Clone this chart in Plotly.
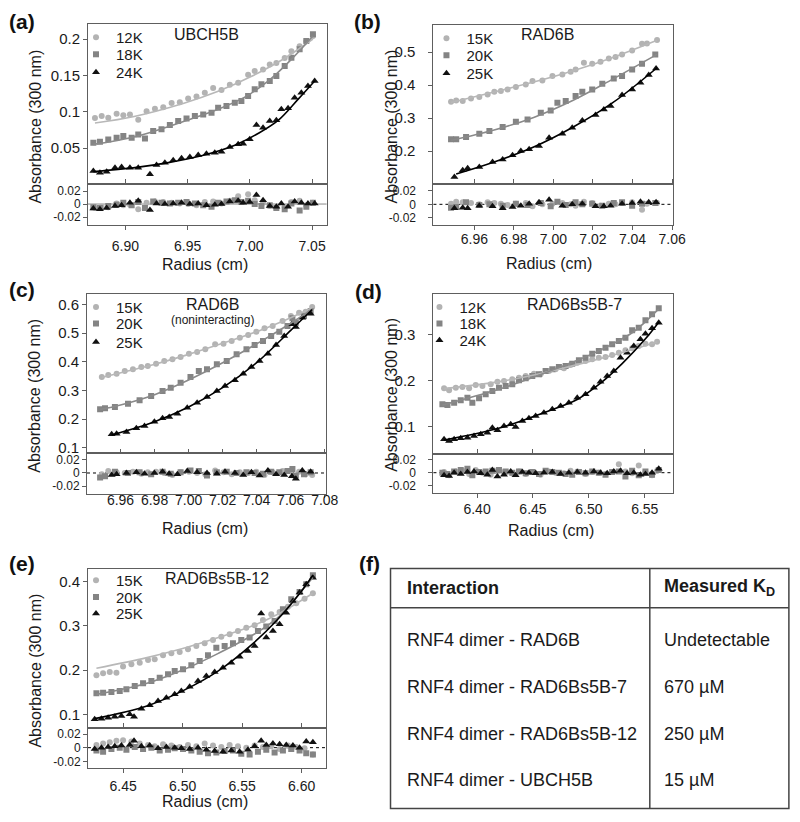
import plotly.graph_objects as go

# Target picture is 800x822. The page is photographed as an 812x826 area that is then
# brought back to 800x822, so positions are laid out in that page frame (8px body margin).
W, H = 800, 822
PAD = 8
PAGE_W, PAGE_H = 812, 826
SX, SY = W / PAGE_W, H / PAGE_H
FIG_W, FIG_H = PAGE_W - 2 * PAD, PAGE_H - 2 * PAD

# ---------------- data: panel (a) UBCH5B ----------------
a_names = ["12K", "18K", "24K"]
a_x_12 = [6.8755, 6.8809, 6.8862, 6.8929, 6.8983, 6.9036, 6.9103, 6.9170, 6.9237, 6.9304, 6.9371, 6.9437, 6.9504, 6.9571, 6.9638, 6.9705, 6.9772, 6.9839, 6.9906, 6.9986, 7.0039, 7.0106, 7.0160, 7.0213, 7.0280, 7.0334, 7.0400, 7.0454, 7.0507]
a_y_12 = [0.0915, 0.0940, 0.0917, 0.0972, 0.0950, 0.0960, 0.0890, 0.1005, 0.1040, 0.1060, 0.1120, 0.1130, 0.1180, 0.1210, 0.1260, 0.1326, 0.1300, 0.1370, 0.1400, 0.1510, 0.1560, 0.1580, 0.1650, 0.1670, 0.1740, 0.1830, 0.1900, 0.1970, 0.2040]
a_r_12 = [-0.006, -0.004, -0.005, 0.001, -0.002, -0.001, -0.008, 0.002, 0.004, 0.003, 0.002, 0.001, 0.000, -0.002, 0.003, 0.004, 0.001, 0.005, 0.012, 0.015, 0.006, 0.002, -0.003, -0.006, -0.004, 0.003, 0.005, -0.002, 0.002]
a_x_18 = [6.8742, 6.8795, 6.8862, 6.8929, 6.8983, 6.9050, 6.9103, 6.9157, 6.9223, 6.9290, 6.9357, 6.9424, 6.9491, 6.9558, 6.9625, 6.9692, 6.9745, 6.9812, 6.9879, 6.9932, 6.9986, 7.0039, 7.0093, 7.0160, 7.0213, 7.0280, 7.0334, 7.0400, 7.0454, 7.0507]
a_y_18 = [0.0573, 0.0587, 0.0619, 0.0642, 0.0665, 0.0642, 0.0688, 0.0633, 0.0733, 0.0757, 0.0816, 0.0872, 0.0908, 0.0940, 0.0963, 0.0986, 0.1055, 0.1078, 0.1124, 0.1147, 0.1216, 0.1308, 0.1377, 0.1422, 0.1491, 0.1629, 0.1743, 0.1858, 0.1973, 0.2065]
a_r_18 = [-0.005, -0.006, -0.003, -0.001, 0.002, -0.002, 0.003, -0.006, 0.004, 0.002, 0.001, 0.002, 0.003, 0.001, -0.002, -0.004, 0.002, 0.004, 0.006, 0.003, 0.005, 0.000, -0.003, -0.002, -0.006, -0.008, 0.001, -0.010, -0.004, 0.002]
a_x_24 = [6.8742, 6.8795, 6.8849, 6.8916, 6.8969, 6.9036, 6.9103, 6.9197, 6.9250, 6.9317, 6.9384, 6.9451, 6.9518, 6.9585, 6.9651, 6.9718, 6.9772, 6.9839, 6.9906, 6.9946, 6.9999, 7.0053, 7.0106, 7.0160, 7.0213, 7.0253, 7.0307, 7.0360, 7.0414, 7.0467, 7.0521]
a_y_24 = [0.0184, 0.0161, 0.0175, 0.0230, 0.0239, 0.0230, 0.0230, 0.0138, 0.0267, 0.0299, 0.0331, 0.0358, 0.0377, 0.0404, 0.0422, 0.0436, 0.0450, 0.0514, 0.0551, 0.0560, 0.0620, 0.0816, 0.0780, 0.0872, 0.0881, 0.1032, 0.1046, 0.1193, 0.1262, 0.1354, 0.1423]
a_r_24 = [-0.007, -0.008, -0.006, -0.003, -0.002, 0.002, 0.005, -0.009, 0.001, 0.000, 0.001, 0.002, 0.000, 0.001, -0.002, -0.001, 0.000, 0.004, 0.005, 0.002, 0.003, 0.014, 0.006, -0.003, -0.004, 0.001, -0.004, 0.004, 0.002, 0.001, 0.001]
a_fx_12 = [6.8755, 6.907, 6.947, 6.974, 7.001, 7.028, 7.0507]
a_fy_12 = [0.0845, 0.0935, 0.1117, 0.1277, 0.1484, 0.1736, 0.2000]
a_fx_18 = [6.8742, 6.9076, 6.9478, 6.9745, 6.9959, 7.0146, 7.0334, 7.0507]
a_fy_18 = [0.0550, 0.0656, 0.0872, 0.1033, 0.1200, 0.1420, 0.1720, 0.2041]
a_fx_24 = [6.8742, 6.9076, 6.9344, 6.9611, 6.9879, 7.0066, 7.0227, 7.0387, 7.0521]
a_fy_24 = [0.0175, 0.0230, 0.0299, 0.0395, 0.0540, 0.0700, 0.0880, 0.1170, 0.1423]

# ---------------- data: panel (b) RAD6B ----------------
b_names = ["15K", "20K", "25K"]
b_x_15 = [6.9482, 6.9508, 6.9541, 6.9583, 6.9625, 6.9667, 6.9701, 6.9734, 6.9768, 6.9810, 6.9860, 6.9894, 6.9944, 6.9995, 7.0045, 7.0087, 7.0112, 7.0154, 7.0196, 7.0238, 7.0280, 7.0314, 7.0347, 7.0398, 7.0448, 7.0473, 7.0524]
b_y_15 = [0.3495, 0.3535, 0.3515, 0.3596, 0.3636, 0.3717, 0.3798, 0.3818, 0.3869, 0.3939, 0.4020, 0.4121, 0.4141, 0.4273, 0.4323, 0.4404, 0.4475, 0.4677, 0.4646, 0.4707, 0.4808, 0.4848, 0.4929, 0.5051, 0.5253, 0.5263, 0.5364]
b_r_15 = [0.001, 0.004, 0.003, 0.002, 0.000, 0.003, 0.002, 0.001, -0.001, 0.001, 0.002, -0.003, 0.000, 0.001, 0.002, 0.000, -0.002, 0.004, 0.002, -0.002, 0.001, 0.000, 0.002, 0.003, -0.008, 0.001, 0.002]
b_x_20 = [6.9482, 6.9508, 6.9558, 6.9625, 6.9676, 6.9743, 6.9810, 6.9869, 6.9936, 6.9986, 7.0020, 7.0062, 7.0112, 7.0146, 7.0196, 7.0247, 7.0305, 7.0347, 7.0398, 7.0448, 7.0515]
b_y_20 = [0.2354, 0.2354, 0.2424, 0.2525, 0.2606, 0.2727, 0.2889, 0.2960, 0.3162, 0.3232, 0.3465, 0.3515, 0.3667, 0.3798, 0.3869, 0.4040, 0.4202, 0.4273, 0.4475, 0.4646, 0.4929]
b_r_20 = [-0.005, -0.004, 0.003, -0.001, 0.000, -0.002, 0.001, -0.001, 0.002, -0.003, 0.004, -0.001, 0.003, 0.000, 0.001, -0.002, 0.002, 0.003, -0.002, 0.001, 0.002]
b_x_25 = [6.9499, 6.9541, 6.9566, 6.9625, 6.9692, 6.9743, 6.9793, 6.9835, 6.9877, 6.9927, 6.9978, 7.0045, 7.0095, 7.0146, 7.0213, 7.0255, 7.0289, 7.0347, 7.0398, 7.0440, 7.0482, 7.0519]
b_y_25 = [0.1212, 0.1414, 0.1475, 0.1515, 0.1667, 0.1747, 0.1869, 0.2000, 0.2051, 0.2152, 0.2404, 0.2525, 0.2707, 0.2929, 0.3091, 0.3263, 0.3364, 0.3697, 0.3869, 0.4071, 0.4303, 0.4505]
b_r_25 = [-0.006, -0.005, -0.006, -0.002, -0.003, -0.006, -0.004, -0.002, 0.001, 0.003, 0.007, -0.002, 0.000, 0.001, -0.003, -0.003, -0.002, 0.001, 0.002, 0.004, 0.003, 0.003]
b_fx_15 = [6.9482, 6.970, 6.990, 7.010, 7.030, 7.0524]
b_fy_15 = [0.3470, 0.3788, 0.4090, 0.4434, 0.4838, 0.5360]
b_fx_20 = [6.9482, 6.970, 6.990, 7.010, 7.030, 7.0524]
b_fy_20 = [0.2320, 0.2636, 0.3020, 0.3540, 0.4180, 0.4930]
b_fx_25 = [6.9508, 6.970, 6.990, 7.010, 7.030, 7.0524]
b_fy_25 = [0.1303, 0.1667, 0.2121, 0.2727, 0.3465, 0.4525]

# ---------------- data: panel (c) RAD6B (noninteracting) ----------------
c_names = ["15K", "20K", "25K"]
c_x_15 = [6.9490, 6.9528, 6.9577, 6.9625, 6.9673, 6.9722, 6.9760, 6.9809, 6.9857, 6.9905, 6.9953, 7.0002, 7.0050, 7.0098, 7.0156, 7.0205, 7.0253, 7.0301, 7.0350, 7.0398, 7.0446, 7.0494, 7.0552, 7.0601, 7.0649, 7.0688, 7.0726]
c_y_15 = [0.3465, 0.3535, 0.3581, 0.3674, 0.3733, 0.3814, 0.3849, 0.3930, 0.4023, 0.4081, 0.4162, 0.4279, 0.4337, 0.4430, 0.4604, 0.4627, 0.4720, 0.4837, 0.4930, 0.5046, 0.5162, 0.5243, 0.5418, 0.5592, 0.5708, 0.5743, 0.5906]
c_r_15 = [-0.002, 0.003, 0.001, 0.000, 0.002, -0.001, 0.001, 0.002, 0.000, -0.003, 0.001, 0.002, 0.000, -0.002, 0.004, 0.001, -0.002, 0.001, 0.000, 0.002, -0.003, 0.001, 0.003, 0.004, 0.002, -0.002, -0.003]
c_x_20 = [6.9480, 6.9509, 6.9567, 6.9644, 6.9712, 6.9780, 6.9847, 6.9895, 6.9953, 7.0011, 7.0060, 7.0108, 7.0166, 7.0224, 7.0282, 7.0340, 7.0388, 7.0437, 7.0485, 7.0533, 7.0581, 7.0610, 7.0630, 7.0678, 7.0717]
c_y_20 = [0.2338, 0.2373, 0.2419, 0.2535, 0.2652, 0.2803, 0.2977, 0.3093, 0.3267, 0.3465, 0.3674, 0.3733, 0.3907, 0.4023, 0.4256, 0.4430, 0.4581, 0.4720, 0.4895, 0.5046, 0.5243, 0.5511, 0.5360, 0.5592, 0.5766]
c_r_20 = [-0.007, -0.005, 0.002, 0.000, 0.001, -0.002, 0.002, -0.001, 0.001, 0.004, 0.003, -0.004, 0.001, 0.002, 0.000, 0.001, 0.000, -0.001, 0.002, 0.001, 0.003, 0.006, -0.004, -0.002, 0.001]
c_x_25 = [6.9548, 6.9577, 6.9635, 6.9693, 6.9741, 6.9799, 6.9847, 6.9886, 6.9934, 6.9992, 7.0050, 7.0108, 7.0166, 7.0214, 7.0272, 7.0321, 7.0369, 7.0417, 7.0466, 7.0514, 7.0562, 7.0607, 7.0630, 7.0668, 7.0717]
c_y_25 = [0.1466, 0.1489, 0.1547, 0.1675, 0.1757, 0.1908, 0.2024, 0.2070, 0.2187, 0.2396, 0.2570, 0.2768, 0.2977, 0.3151, 0.3349, 0.3581, 0.3814, 0.4023, 0.4279, 0.4581, 0.4895, 0.5302, 0.5208, 0.5534, 0.5673]
c_r_25 = [-0.003, -0.002, 0.000, 0.001, -0.001, 0.000, 0.002, -0.001, -0.002, 0.003, 0.001, 0.000, -0.001, 0.002, 0.000, -0.003, 0.001, -0.004, 0.004, -0.002, -0.003, -0.005, -0.009, 0.004, 0.002]
c_fx_15 = [6.949, 6.980, 7.000, 7.020, 7.040, 7.060, 7.0726]
c_fy_15 = [0.3450, 0.3907, 0.4255, 0.4639, 0.5046, 0.5534, 0.5880]
c_fx_20 = [6.948, 6.960, 6.980, 7.000, 7.020, 7.040, 7.060, 7.073]
c_fy_20 = [0.2330, 0.2490, 0.2850, 0.3360, 0.3960, 0.4620, 0.5340, 0.5850]
c_fx_25 = [6.9548, 6.980, 7.000, 7.020, 7.040, 7.060, 7.0726]
c_fy_25 = [0.1443, 0.1908, 0.2419, 0.3093, 0.3965, 0.5092, 0.5820]

# ---------------- data: panel (d) RAD6Bs5B-7 ----------------
d_names = ["12K", "18K", "24K"]
d_x_12 = [6.3705, 6.3750, 6.3810, 6.3869, 6.3929, 6.3988, 6.4048, 6.4122, 6.4182, 6.4241, 6.4315, 6.4375, 6.4435, 6.4509, 6.4568, 6.4643, 6.4702, 6.4777, 6.4836, 6.4896, 6.4970, 6.5030, 6.5089, 6.5149, 6.5208, 6.5268, 6.5327, 6.5387, 6.5446, 6.5506, 6.5565, 6.5610]
d_y_12 = [0.1837, 0.1793, 0.1851, 0.1866, 0.1837, 0.1909, 0.1888, 0.1924, 0.1982, 0.1997, 0.2033, 0.2069, 0.2106, 0.2157, 0.2142, 0.2215, 0.2251, 0.2273, 0.2346, 0.2397, 0.2433, 0.2469, 0.2506, 0.2520, 0.2564, 0.2615, 0.2666, 0.2709, 0.2760, 0.2811, 0.2797, 0.2855]
d_r_12 = [0.001, -0.004, 0.002, 0.003, -0.002, 0.004, 0.000, -0.003, 0.002, 0.001, -0.001, 0.002, -0.002, 0.001, -0.003, 0.002, 0.000, -0.001, 0.003, 0.002, -0.002, 0.001, 0.000, -0.002, 0.001, 0.013, 0.002, -0.001, 0.011, 0.001, -0.004, 0.003]
d_x_18 = [6.3690, 6.3735, 6.3795, 6.3854, 6.3914, 6.3958, 6.4018, 6.4077, 6.4137, 6.4196, 6.4256, 6.4315, 6.4375, 6.4435, 6.4494, 6.4554, 6.4613, 6.4673, 6.4732, 6.4792, 6.4851, 6.4911, 6.4970, 6.5030, 6.5089, 6.5149, 6.5208, 6.5268, 6.5327, 6.5387, 6.5446, 6.5506, 6.5565, 6.5625]
d_y_18 = [0.1488, 0.1473, 0.1524, 0.1575, 0.1633, 0.1524, 0.1619, 0.1706, 0.1779, 0.1851, 0.1888, 0.1924, 0.2011, 0.2055, 0.2106, 0.2142, 0.2215, 0.2251, 0.2302, 0.2324, 0.2375, 0.2448, 0.2506, 0.2593, 0.2651, 0.2724, 0.2796, 0.2869, 0.2942, 0.3102, 0.3160, 0.3320, 0.3451, 0.3582]
d_r_18 = [0.000, -0.002, 0.002, 0.004, 0.006, -0.004, 0.001, 0.002, 0.003, 0.004, 0.002, 0.000, 0.002, -0.001, 0.001, -0.002, 0.003, 0.001, 0.000, -0.002, -0.003, 0.001, -0.001, 0.002, 0.000, -0.003, 0.001, 0.002, -0.006, 0.003, -0.004, 0.002, -0.003, 0.004]
d_x_24 = [6.3705, 6.3750, 6.3795, 6.3854, 6.3914, 6.3973, 6.4033, 6.4092, 6.4137, 6.4182, 6.4241, 6.4301, 6.4345, 6.4405, 6.4464, 6.4524, 6.4598, 6.4673, 6.4747, 6.4821, 6.4896, 6.4970, 6.5045, 6.5104, 6.5164, 6.5223, 6.5283, 6.5342, 6.5402, 6.5461, 6.5506, 6.5565, 6.5625]
d_y_24 = [0.0725, 0.0688, 0.0725, 0.0746, 0.0761, 0.0797, 0.0834, 0.0870, 0.0979, 0.0921, 0.1015, 0.1052, 0.0993, 0.1124, 0.1183, 0.1233, 0.1306, 0.1379, 0.1451, 0.1524, 0.1633, 0.1706, 0.1851, 0.1982, 0.2106, 0.2215, 0.2506, 0.2615, 0.2760, 0.2906, 0.3029, 0.3145, 0.3269]
d_r_24 = [-0.004, -0.005, 0.000, -0.002, 0.001, 0.002, -0.001, -0.003, 0.004, -0.006, -0.003, 0.002, -0.004, 0.001, 0.000, -0.001, 0.000, 0.001, -0.002, 0.000, 0.001, 0.000, 0.002, 0.000, -0.001, 0.002, 0.003, -0.001, 0.000, -0.003, -0.002, 0.000, 0.006]
d_fx_12 = [6.3705, 6.420, 6.460, 6.500, 6.540, 6.561]
d_fy_12 = [0.1830, 0.1982, 0.2178, 0.2419, 0.2690, 0.2845]
d_fx_18 = [6.369, 6.420, 6.460, 6.500, 6.520, 6.540, 6.5625]
d_fy_18 = [0.1470, 0.1820, 0.2165, 0.2555, 0.2790, 0.3070, 0.3570]
d_fx_24 = [6.3705, 6.420, 6.460, 6.490, 6.510, 6.530, 6.550, 6.5625]
d_fy_24 = [0.0710, 0.0970, 0.1310, 0.1600, 0.1940, 0.2380, 0.2900, 0.3280]

# ---------------- data: panel (e) RAD6Bs5B-12 ----------------
e_names = ["15K", "20K", "25K"]
e_x_15 = [6.4275, 6.4331, 6.4387, 6.4443, 6.4499, 6.4569, 6.4639, 6.4709, 6.4765, 6.4835, 6.4905, 6.4975, 6.5045, 6.5115, 6.5185, 6.5255, 6.5325, 6.5395, 6.5465, 6.5535, 6.5605, 6.5675, 6.5745, 6.5815, 6.5885, 6.5955, 6.6025, 6.6095]
e_y_15 = [0.1882, 0.1927, 0.1957, 0.1942, 0.2078, 0.2131, 0.2168, 0.2229, 0.2244, 0.2334, 0.2379, 0.2410, 0.2470, 0.2545, 0.2606, 0.2681, 0.2756, 0.2809, 0.2885, 0.2960, 0.3013, 0.3133, 0.3262, 0.3314, 0.3435, 0.3511, 0.3616, 0.3737]
e_r_15 = [0.004, 0.006, 0.008, 0.010, 0.011, 0.009, 0.006, 0.004, 0.002, 0.005, 0.003, 0.001, 0.004, 0.002, 0.006, 0.003, 0.001, 0.004, 0.002, 0.000, 0.003, 0.001, 0.002, -0.002, 0.003, 0.001, -0.001, -0.010]
e_x_20 = [6.4275, 6.4331, 6.4401, 6.4471, 6.4527, 6.4597, 6.4667, 6.4737, 6.4807, 6.4877, 6.4933, 6.5003, 6.5073, 6.5143, 6.5213, 6.5283, 6.5353, 6.5423, 6.5493, 6.5563, 6.5633, 6.5703, 6.5773, 6.5843, 6.5913, 6.5983, 6.6039, 6.6095]
e_y_20 = [0.1474, 0.1489, 0.1505, 0.1527, 0.1565, 0.1640, 0.1701, 0.1753, 0.1829, 0.1904, 0.1980, 0.2017, 0.2108, 0.2206, 0.2334, 0.2507, 0.2545, 0.2606, 0.2681, 0.2734, 0.2885, 0.2983, 0.3111, 0.3375, 0.3601, 0.3767, 0.3941, 0.4144]
e_r_20 = [-0.004, -0.006, -0.002, 0.000, -0.003, 0.001, -0.002, 0.000, -0.004, -0.003, -0.001, -0.002, -0.004, -0.006, -0.008, -0.007, -0.005, -0.004, -0.009, -0.010, -0.006, -0.003, -0.007, -0.004, -0.002, -0.004, -0.008, -0.010]
e_x_25 = [6.4260, 6.4317, 6.4373, 6.4429, 6.4485, 6.4555, 6.4591, 6.4653, 6.4723, 6.4793, 6.4863, 6.4933, 6.4989, 6.5059, 6.5129, 6.5199, 6.5269, 6.5339, 6.5409, 6.5479, 6.5549, 6.5605, 6.5660, 6.5703, 6.5759, 6.5815, 6.5871, 6.5927, 6.5983, 6.6039, 6.6095]
e_y_25 = [0.0886, 0.0901, 0.0924, 0.0946, 0.0962, 0.0999, 0.0946, 0.1127, 0.1203, 0.1301, 0.1376, 0.1452, 0.1527, 0.1625, 0.1753, 0.1867, 0.1957, 0.2055, 0.2168, 0.2304, 0.2432, 0.2545, 0.3280, 0.2734, 0.2885, 0.3035, 0.3299, 0.3563, 0.3752, 0.3941, 0.4091]
e_r_25 = [-0.002, 0.000, 0.001, 0.002, 0.003, 0.004, 0.010, 0.002, 0.003, -0.001, 0.001, 0.000, -0.001, -0.002, 0.000, -0.003, -0.005, -0.006, -0.004, -0.006, -0.003, 0.002, 0.010, 0.004, 0.006, 0.005, 0.004, 0.003, 0.000, 0.009, 0.008]
e_fx_15 = [6.4275, 6.470, 6.500, 6.530, 6.560, 6.580, 6.6095]
e_fy_15 = [0.2040, 0.2282, 0.2486, 0.2735, 0.3013, 0.3262, 0.3737]
e_fx_20 = [6.4275, 6.470, 6.500, 6.530, 6.560, 6.580, 6.600, 6.6095]
e_fy_20 = [0.1450, 0.1701, 0.2000, 0.2378, 0.2809, 0.3187, 0.3791, 0.4093]
e_fx_25 = [6.4260, 6.470, 6.500, 6.530, 6.560, 6.580, 6.600, 6.6095]
e_fy_25 = [0.0901, 0.1189, 0.1529, 0.1982, 0.2622, 0.3150, 0.3791, 0.4144]

# ---------------- tick labels ----------------
a_xtick_vals = [6.90, 6.95, 7.00, 7.05]
a_xtick_text = ["6.90", "6.95", "7.00", "7.05"]
a_ytick_vals = [0.05, 0.1, 0.15, 0.2]
a_ytick_text = ["0.05", "0.1", "0.15", "0.2"]
b_xtick_vals = [6.96, 6.98, 7.00, 7.02, 7.04, 7.06]
b_xtick_text = ["6.96", "6.98", "7.00", "7.02", "7.04", "7.06"]
b_ytick_vals = [0.2, 0.3, 0.4, 0.5]
b_ytick_text = ["0.2", "0.3", "0.4", "0.5"]
c_xtick_vals = [6.96, 6.98, 7.00, 7.02, 7.04, 7.06, 7.08]
c_xtick_text = ["6.96", "6.98", "7.00", "7.02", "7.04", "7.06", "7.08"]
c_ytick_vals = [0.1, 0.2, 0.3, 0.4, 0.5, 0.6]
c_ytick_text = ["0.1", "0.2", "0.3", "0.4", "0.5", "0.6"]
d_xtick_vals = [6.40, 6.45, 6.50, 6.55]
d_xtick_text = ["6.40", "6.45", "6.50", "6.55"]
d_ytick_vals = [0.1, 0.2, 0.3]
d_ytick_text = ["0.1", "0.2", "0.3"]
e_xtick_vals = [6.45, 6.50, 6.55, 6.60]
e_xtick_text = ["6.45", "6.50", "6.55", "6.60"]
e_ytick_vals = [0.1, 0.2, 0.3, 0.4]
e_ytick_text = ["0.1", "0.2", "0.3", "0.4"]
resid_tick_vals = [-0.02, 0, 0.02]
resid_tick_text = ["-0.02", "0", "0.02"]

# ---------------- table (f) ----------------
table_header = ["Interaction", "Measured K<sub>D</sub>"]
table_interactions = ["RNF4 dimer - RAD6B", "RNF4 dimer - RAD6Bs5B-7",
                      "RNF4 dimer - RAD6Bs5B-12", "RNF4 dimer - UBCH5B"]
table_kd = ["Undetectable", "670 µM", "250 µM", "15 µM"]

# ---------------- styling ----------------
FONT = "Liberation Sans, Arial, sans-serif"
TXT = "#1a1a1a"
AXC = "#5e5e5e"
MK_COL = ["#b3b3b3", "#848484", "#111111"]
LN_COL = ["#b8b8b8", "#8a8a8a", "#000000"]
SYMS = ["circle", "square", "triangle-up"]
MK_SIZE = [6, 6, 7]
LEG_FONT = 15
LEG_DY = 17


def fx(px):
    return (px / SX - PAD) / FIG_W


def fy(py):
    return 1 - (py / SY - PAD) / FIG_H


def note(text, px, py, size, xanchor="center", angle=0, color=TXT):
    return dict(text=text, x=fx(px), y=fy(py), xref="paper", yref="paper", xanchor=xanchor,
                yanchor="middle", showarrow=False, textangle=angle, font=dict(size=size, color=color))


panels = [
    dict(label="(a)", lab_xy=(22, 20), title="UBCH5B", title_xy=(207, 33), sub=None,
         box=(88, 327, 23, 183, 224), xr=[6.8699, 7.0617], yr=[0.0005, 0.2206], rr=[-0.0323, 0.0308],
         xt=(a_xtick_vals, a_xtick_text), yt=(a_ytick_vals, a_ytick_text),
         names=a_names,
         data=[(a_x_12, a_y_12, a_r_12, a_fx_12, a_fy_12),
               (a_x_18, a_y_18, a_r_18, a_fx_18, a_fy_18),
               (a_x_24, a_y_24, a_r_24, a_fx_24, a_fy_24)],
         leg_x=76, leg_rows=(37, 54, 72), ytitle_x=35, xtitle_xy=(205, 263), ystand=0, xstand=4,
         xticklen=4, zdash="solid"),
    dict(label="(b)", lab_xy=(368, 20), title="RAD6B", title_xy=(548, 33), sub=None,
         box=(434, 674, 24, 183, 224), xr=[6.9393, 7.0605], yr=[0.1, 0.582], rr=[-0.031, 0.0304],
         xt=(b_xtick_vals, b_xtick_text), yt=(b_ytick_vals, b_ytick_text),
         names=b_names,
         data=[(b_x_15, b_y_15, b_r_15, b_fx_15, b_fy_15),
               (b_x_20, b_y_20, b_r_20, b_fx_20, b_fy_20),
               (b_x_25, b_y_25, b_r_25, b_fx_25, b_fy_25)],
         leg_x=427, leg_rows=(38, 55, 73), ytitle_x=392, xtitle_xy=(550, 262), ystand=10, xstand=-3,
         xticklen=4, zdash="dot"),
    dict(label="(c)", lab_xy=(22, 288), title="RAD6B", title_xy=(213, 303), sub="(noninteracting)",
         box=(87, 326, 292.7, 451.7, 492.7), xr=[6.9403, 7.0805], yr=[0.0826, 0.637], rr=[-0.0318, 0.0312],
         xt=(c_xtick_vals, c_xtick_text), yt=(c_ytick_vals, c_ytick_text),
         names=c_names,
         data=[(c_x_15, c_y_15, c_r_15, c_fx_15, c_fy_15),
               (c_x_20, c_y_20, c_r_20, c_fx_20, c_fy_20),
               (c_x_25, c_y_25, c_r_25, c_fx_25, c_fy_25)],
         leg_x=76, leg_rows=(306.7, 323.3, 341.7), ytitle_x=35, xtitle_xy=(205, 528), ystand=0, xstand=-9,
         xticklen=3, zdash="dot"),
    dict(label="(d)", lab_xy=(369, 290), title="RAD6Bs5B-7", title_xy=(575, 303), sub=None,
         box=(434, 674, 292.7, 452.7, 492), xr=[6.3610, 6.5753], yr=[0.0411, 0.390], rr=[-0.0312, 0.0292],
         xt=(d_xtick_vals, d_xtick_text), yt=(d_ytick_vals, d_ytick_text),
         names=d_names,
         data=[(d_x_12, d_y_12, d_r_12, d_fx_12, d_fy_12),
               (d_x_18, d_y_18, d_r_18, d_fx_18, d_fy_18),
               (d_x_24, d_y_24, d_r_24, d_fx_24, d_fy_24)],
         leg_x=420, leg_rows=(306.7, 323.3, 340), ytitle_x=392, xtitle_xy=(552, 530), ystand=10, xstand=-1,
         xticklen=4, zdash="dot"),
    dict(label="(e)", lab_xy=(22, 563), title="RAD6Bs5B-12", title_xy=(217, 578), sub=None,
         box=(88, 326, 568.3, 726.7, 766.7), xr=[6.4204, 6.6202], yr=[0.0697, 0.428], rr=[-0.0293, 0.0293],
         xt=(e_xtick_vals, e_xtick_text), yt=(e_ytick_vals, e_ytick_text),
         names=e_names,
         data=[(e_x_15, e_y_15, e_r_15, e_fx_15, e_fy_15),
               (e_x_20, e_y_20, e_r_20, e_fx_20, e_fy_20),
               (e_x_25, e_y_25, e_r_25, e_fx_25, e_fy_25)],
         leg_x=76, leg_rows=(580, 596.7, 613.3), ytitle_x=35, xtitle_xy=(205, 801), ystand=0, xstand=2,
         xticklen=4, zdash="dot"),
]

fig = go.Figure()
layout = dict(width=FIG_W, height=FIG_H, margin=dict(l=0, r=0, t=0, b=0),
              paper_bgcolor="white", plot_bgcolor="white",
              font=dict(family=FONT, color=TXT), hovermode=False)
annotations = []
shapes = []

for i, p in enumerate(panels):
    m, r = 2 * i + 1, 2 * i + 2
    xm, ym = ("x" if m == 1 else f"x{m}"), ("y" if m == 1 else f"y{m}")
    xr_, yr_ = f"x{r}", f"y{r}"
    left, right, top, mid, bot = p["box"]

    common = dict(showgrid=False, zeroline=False, showline=True, linecolor=AXC, linewidth=1)
    layout["xaxis" if m == 1 else f"xaxis{m}"] = dict(
        domain=[fx(left), fx(right)], anchor=ym, range=p["xr"], showticklabels=False,
        ticks="", mirror=True, **common)
    layout["yaxis" if m == 1 else f"yaxis{m}"] = dict(
        domain=[fy(mid), fy(top)], anchor=xm, range=p["yr"], tickvals=p["yt"][0], ticktext=p["yt"][1],
        ticks="outside", ticklen=4, tickcolor=AXC, mirror=True, tickfont=dict(size=15, color=TXT),
        ticklabelstandoff=p["ystand"], **common)
    layout[f"xaxis{r}"] = dict(
        domain=[fx(left), fx(right)], anchor=yr_, range=p["xr"], tickvals=p["xt"][0], ticktext=p["xt"][1],
        ticks="outside", ticklen=p["xticklen"], tickcolor=AXC, mirror="ticks", tickfont=dict(size=14, color=TXT),
        ticklabelstandoff=p["xstand"], **common)
    layout[f"yaxis{r}"] = dict(
        domain=[fy(bot), fy(mid)], anchor=xr_, range=p["rr"], tickvals=resid_tick_vals, ticktext=resid_tick_text,
        ticks="outside", ticklen=4, tickcolor=AXC, mirror=True, tickfont=dict(size=12, color=TXT),
        ticklabelstandoff=p["ystand"], **common)

    for k, (xs, ys, rs, fxs, fys) in enumerate(p["data"]):
        n = 3 * i + k + 1
        leg_name = "legend" if n == 1 else f"legend{n}"
        fig.add_trace(go.Scatter(x=xs, y=ys, mode="markers", name=p["names"][k],
                                 marker=dict(symbol=SYMS[k], size=MK_SIZE[k], color=MK_COL[k], line=dict(width=0)),
                                 xaxis=xm, yaxis=ym, legend=leg_name, showlegend=True))
        layout[leg_name] = dict(x=fx(p["leg_x"]), y=fy(p["leg_rows"][k] - LEG_DY), xanchor="left", yanchor="top",
                                bgcolor="rgba(0,0,0,0)", borderwidth=0, font=dict(size=LEG_FONT, color=TXT),
                                itemwidth=30)
    for k, (xs, ys, rs, fxs, fys) in enumerate(p["data"]):
        fig.add_trace(go.Scatter(x=fxs, y=fys, mode="lines", line=dict(color=LN_COL[k], width=1.6, shape="spline"),
                                 xaxis=xm, yaxis=ym, showlegend=False))
    for k, (xs, ys, rs, fxs, fys) in enumerate(p["data"]):
        fig.add_trace(go.Scatter(x=xs, y=rs, mode="markers",
                                 marker=dict(symbol=SYMS[k], size=MK_SIZE[k], color=MK_COL[k], line=dict(width=0)),
                                 xaxis=xr_, yaxis=yr_, showlegend=False))
    shapes.append(dict(type="line", xref=f"x{r} domain", x0=0, x1=1, yref=yr_, y0=0, y1=0,
                       line=dict(color="#000000" if p["zdash"] == "dot" else "#8a8a8a", width=1,
                                 dash=p["zdash"]), layer="below"))

    annotations.append(note(f"<b>{p['label']}</b>", p["lab_xy"][0], p["lab_xy"][1], 21, color="#111111"))
    annotations.append(note(p["title"], p["title_xy"][0], p["title_xy"][1], 16))
    if p["sub"]:
        annotations.append(note(p["sub"], p["title_xy"][0], p["title_xy"][1] + 16, 12))
    annotations.append(note("Absorbance (300 nm)", p["ytitle_x"], (top + bot) / 2 + 2, 16, angle=-90))
    annotations.append(note("Radius (cm)", p["xtitle_xy"][0], p["xtitle_xy"][1], 16))

# ---------------- table (f) ----------------
annotations.append(note("<b>(f)</b>", 370, 563, 21, color="#111111"))
TL, TR, TT, TB, TH, TD = 391, 790, 567.5, 807.5, 606.7, 650.7
tl = dict(color="#444444", width=1.5)
shapes.append(dict(type="rect", xref="paper", yref="paper", x0=fx(TL), x1=fx(TR), y0=fy(TB), y1=fy(TT), line=tl))
shapes.append(dict(type="line", xref="paper", yref="paper", x0=fx(TL), x1=fx(TR), y0=fy(TH), y1=fy(TH), line=tl))
shapes.append(dict(type="line", xref="paper", yref="paper", x0=fx(TD), x1=fx(TD), y0=fy(TB), y1=fy(TT), line=tl))
annotations.append(note(f"<b>{table_header[0]}</b>", 406, 587, 18, xanchor="left"))
annotations.append(note(f"<b>{table_header[1]}</b>", 663, 587, 18, xanchor="left"))
row_y = [639.3, 685.7, 732.7, 779.3]
for j in range(len(table_interactions)):
    annotations.append(note(table_interactions[j], 406, row_y[j], 18, xanchor="left"))
    annotations.append(note(table_kd[j], 663, row_y[j], 18, xanchor="left"))

layout["annotations"] = annotations
layout["shapes"] = shapes
fig.update_layout(**layout)
fig.write_html("out.html", config={"displayModeBar": False})
